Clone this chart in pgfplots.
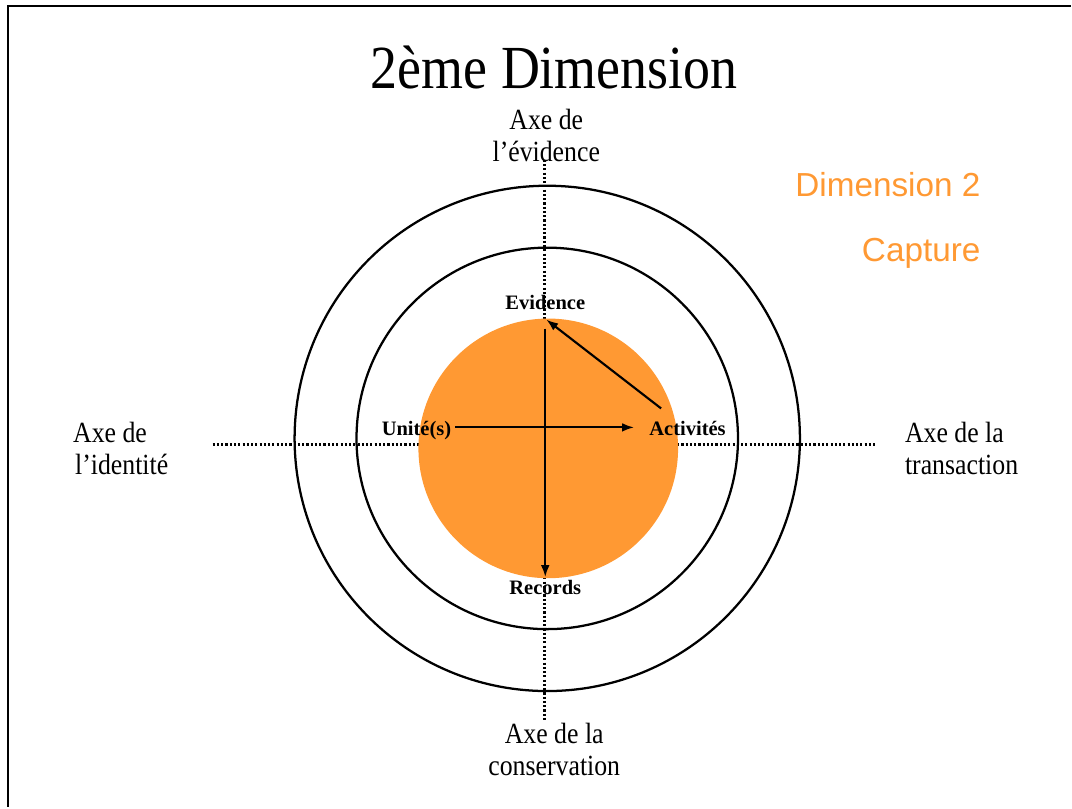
\documentclass[border=0pt]{standalone}
\usepackage{fontspec}
\usepackage{pgfplots}
\pgfplotsset{compat=1.18}
\usetikzlibrary{arrows.meta}
\setmainfont{Liberation Serif}
\newfontfamily\srf[FakeStretch=0.88]{Liberation Serif}
\newfontfamily\sbf{Liberation Serif}
\newfontfamily\arialf{Liberation Sans}
\definecolor{dimorange}{HTML}{FF9933}
\begin{document}
\begin{tikzpicture}
\begin{axis}[
  scale only axis, width=804pt, height=606pt,
  xmin=0, xmax=1072, ymin=0, ymax=808,
  hide axis, clip=false]
% background
\fill[white] (axis cs:0,0) rectangle (axis cs:1072,808);
% frame (top and left)
\addplot[black, line width=2.2pt] coordinates {(8,0) (8,802) (1072,802)};
% dotted axes
\addplot[black, line width=1.9pt, dash pattern=on 1.6pt off 1.6pt] coordinates {(545,648) (545,86)};
\addplot[black, line width=1.9pt, dash pattern=on 1.6pt off 1.6pt] coordinates {(213,363) (877,363)};
% orange core
\fill[dimorange] (axis cs:549,359) circle [radius=130];
% rings
\draw[black, line width=1.7pt] (axis cs:548,369) circle [radius=253];
\draw[black, line width=1.7pt] (axis cs:548,369) circle [radius=191];
% arrows
\addplot[black, line width=1.6pt, -{Latex[length=9pt,width=6.5pt]}] coordinates {(456,380) (635,380)};
\addplot[black, line width=1.6pt, -{Latex[length=9pt,width=6.5pt]}] coordinates {(546,479) (546,230)};
\addplot[black, line width=1.6pt, -{Latex[length=9pt,width=6.5pt]}] coordinates {(662,399) (547,488)};
% title
\node[anchor=base, inner sep=0pt] at (axis cs:555,719) {\srf\fontsize{46}{52}\selectfont 2ème Dimension};
% axis labels
\node[anchor=base, inner sep=0pt] at (axis cs:547,678) {\srf\fontsize{22}{26}\selectfont Axe de};
\node[anchor=base, inner sep=0pt] at (axis cs:547,646) {\srf\fontsize{22}{26}\selectfont l’évidence};
\node[anchor=base west, inner sep=0pt] at (axis cs:73,365) {\srf\fontsize{22}{26}\selectfont Axe de};
\node[anchor=base west, inner sep=0pt] at (axis cs:75,333) {\srf\fontsize{22}{26}\selectfont l’identité};
\node[anchor=base west, inner sep=0pt] at (axis cs:906,365) {\srf\fontsize{22}{26}\selectfont Axe de la};
\node[anchor=base west, inner sep=0pt] at (axis cs:906,333) {\srf\fontsize{22}{26}\selectfont transaction};
\node[anchor=base, inner sep=0pt] at (axis cs:555,63) {\srf\fontsize{22}{26}\selectfont Axe de la};
\node[anchor=base, inner sep=0pt] at (axis cs:555,31) {\srf\fontsize{22}{26}\selectfont conservation};
% orange text
\node[anchor=base east, inner sep=0pt, text=dimorange] at (axis cs:982,611) {\arialf\fontsize{25}{28}\selectfont Dimension 2};
\node[anchor=base east, inner sep=0pt, text=dimorange] at (axis cs:982,546) {\arialf\fontsize{25}{28}\selectfont Capture};
% bold labels
\node[anchor=base, inner sep=0pt] at (axis cs:546,498) {\sbf\bfseries\fontsize{15.4}{18}\selectfont Evidence};
\node[anchor=base west, inner sep=0pt] at (axis cs:382,372) {\sbf\bfseries\fontsize{15.4}{18}\selectfont Unité(s)};
\node[anchor=base west, inner sep=0pt] at (axis cs:650,372) {\sbf\bfseries\fontsize{15.4}{18}\selectfont Activités};
\node[anchor=base, inner sep=0pt] at (axis cs:546,213) {\sbf\bfseries\fontsize{15.4}{18}\selectfont Records};
\end{axis}
\end{tikzpicture}
\end{document}
